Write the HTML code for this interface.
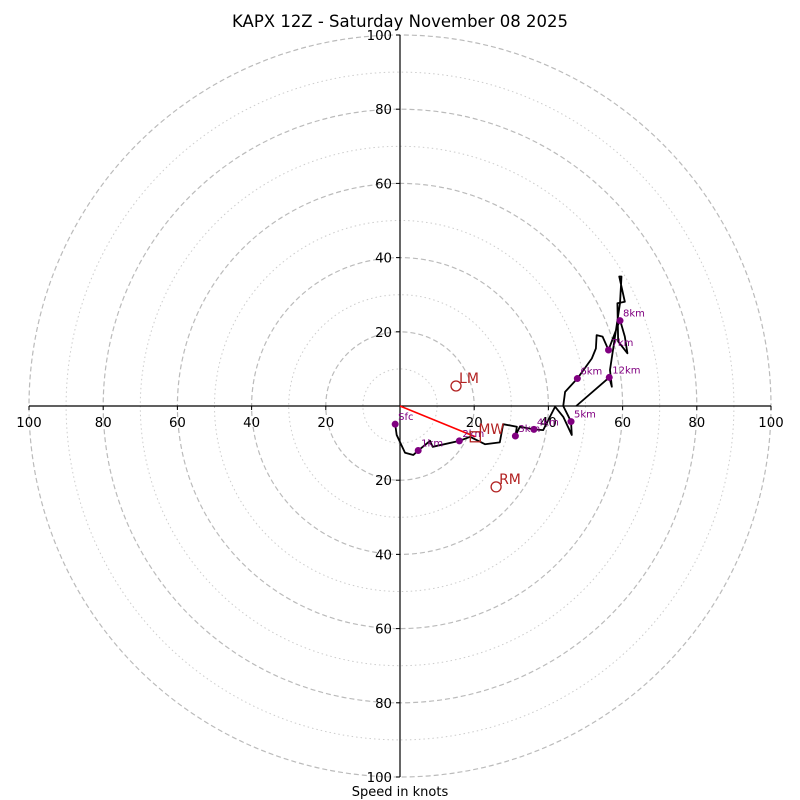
<!DOCTYPE html>
<html><head><meta charset="utf-8"><style>
body{margin:0;background:#fff}
svg{display:block;font-family:"DejaVu Sans","Liberation Sans",sans-serif}
</style></head><body>
<svg id="chart" width="800" height="800" viewBox="0 0 800 800">
<text x="400" y="27" font-size="16.5" text-anchor="middle">KAPX 12Z - Saturday November 08 2025</text>
<text x="400" y="796" font-size="13" text-anchor="middle">Speed in knots</text>
<g id="rings"></g><g id="axes"></g><g id="trace"></g><g id="marks"></g>
</svg>
<script>
const ringValues=[10,20,30,40,50,60,70,80,90,100];
const tickValues=[-100,-80,-60,-40,-20,20,40,60,80,100];
const traceU=[-1.3,-0.9,1.35,3.6,4.9,8.1,8.8,16.0,18.9,22.9,26.9,27.8,31.5,31.1,32.3,36.1,38.6,39.5,41.8,44.0,46.3,46.1,44.0,44.5,47.8,51.7,52.8,53.0,54.6,56.2,58.6,59.3,60.6,61.3,58.8,58.6,60.6,59.1,59.7,59.3,56.6,57.1,56.4,47.5];
const traceV=[-4.9,-7.8,-12.6,-13.2,-12.0,-9.4,-11.0,-9.4,-8.3,-10.3,-9.8,-4.9,-5.6,-8.1,-5.6,-6.3,-6.5,-4.7,-0.2,-2.9,-7.8,-4.2,0,3.8,7.4,12.8,15.5,19.1,18.7,15.1,21.4,23.2,18.7,14.2,17.4,27.7,28.1,34.9,34.9,27.7,9.7,5.2,7.7,0];
const levelNames=["Sfc","1km","2km","3km","4km","5km","6km","7km","8km","12km"];
const levelU=[-1.3,4.9,16.0,31.1,36.1,46.1,47.8,56.2,59.3,56.4];
const levelV=[-4.9,-12.0,-9.4,-8.1,-6.3,-4.2,7.4,15.1,23.0,7.7];
const motionNames=["LM","RM","MW"];
const motionU=[15.1,25.9,20.3];
const motionV=[5.4,-21.8,-8.3];

const NS="http://www.w3.org/2000/svg";
const cx=400,cy=406,k=3.71;
const X=u=>cx+u*k, Y=v=>cy-v*k;
function mk(tag,attrs,parent){const e=document.createElementNS(NS,tag);for(const a in attrs)e.setAttribute(a,attrs[a]);parent.appendChild(e);return e;}
const rings=document.getElementById('rings'),axes=document.getElementById('axes'),trace=document.getElementById('trace'),marks=document.getElementById('marks');
ringValues.forEach(r=>{
  const c=mk('circle',{cx:cx,cy:cy,r:r*k,fill:'none',stroke:r%20===0?'#bbb':'#ccc','stroke-width':r%20===0?1.2:1,'stroke-dasharray':r%20===0?'5,3':'1.5,3'},rings);
  
  
});
const hx=mk('line',{x1:X(-100),y1:cy,x2:X(100),y2:cy,stroke:'#000','stroke-width':1.2},axes);


const vy=mk('line',{x1:cx,y1:Y(100),x2:cx,y2:Y(-100),stroke:'#000','stroke-width':1.2},axes);


tickValues.forEach(t=>{
  mk('line',{x1:X(t),y1:cy,x2:X(t),y2:cy+4,stroke:'#000'},axes);
  const tx=mk('text',{x:X(t),y:cy+21,'font-size':13.3,'text-anchor':'middle'},axes);
  tx.textContent=Math.abs(t);
  
  
  mk('line',{x1:cx-4,y1:Y(t),x2:cx,y2:Y(t),stroke:'#000'},axes);
  const ty=mk('text',{x:cx-8,y:Y(t)+5,'font-size':13.3,'text-anchor':'end'},axes);
  ty.textContent=Math.abs(t);
  
  
});
const pts=traceU.map((u,i)=>X(u)+','+Y(traceV[i])).join(' ');
const pl=mk('polyline',{points:pts,fill:'none',stroke:'#000','stroke-width':1.8,'stroke-linejoin':'round'},trace);


const mv=mk('line',{x1:cx,y1:cy,x2:X(motionU[2]),y2:Y(motionV[2]),stroke:'red','stroke-width':1.6},marks);


levelNames.forEach((n,i)=>{
  const d=mk('circle',{cx:X(levelU[i]),cy:Y(levelV[i]),r:3.5,fill:'purple'},marks);
  
  
  const t=mk('text',{x:X(levelU[i])+3,y:Y(levelV[i])-4,'font-size':10,fill:'purple'},marks);
  t.textContent=n;
  
  
});
motionNames.forEach((n,i)=>{
  const x=X(motionU[i]),y=Y(motionV[i]);
  let m;
  if(n==='MW') m=mk('rect',{x:x-5,y:y-5,width:10,height:10,fill:'none',stroke:'#b22222','stroke-width':1.3},marks);
  else m=mk('circle',{cx:x,cy:y,r:5,fill:'none',stroke:'#b22222','stroke-width':1.3},marks);
  
  
  const t=mk('text',{x:x+3,y:y-3,'font-size':14,fill:'#b22222'},marks);
  t.textContent=n;
  
  
});
</script>
</body></html>
